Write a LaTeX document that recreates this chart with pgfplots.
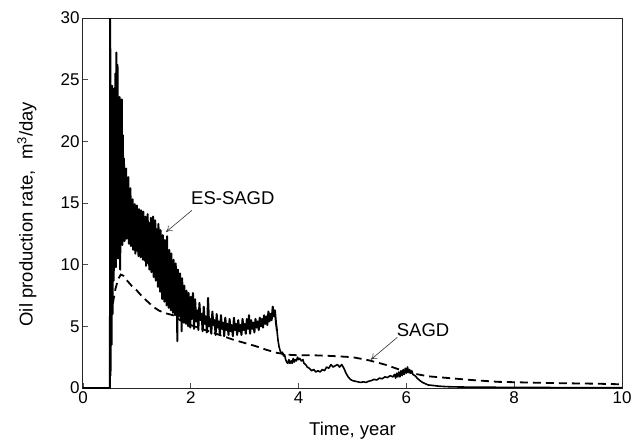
\documentclass[border=0pt]{standalone}
\usepackage{fontspec}
\setmainfont{Liberation Sans}
\usepackage{pgfplots}
\pgfplotsset{compat=1.18}
\usetikzlibrary{arrows.meta}
\begin{document}
\begin{tikzpicture}
\useasboundingbox (-83pt,-54pt) rectangle (557pt,388pt);
\begin{axis}[
  at={(0,0)}, anchor=south west,
  scale only axis, width=539pt, height=370pt,
  xmin=0, xmax=10, ymin=0, ymax=30,
  xtick={0,2,4,6,8,10}, ytick={0,5,10,15,20,25,30},
  xtick pos=bottom, ytick pos=left,
  tick align=inside, major tick length=5pt,
  axis line style={black!85, line width=1pt},
  tick style={black!70, line width=0.8pt},
  /pgf/number format/assume math mode=true,
  tick label style={font=\fontsize{17}{20}\selectfont},
  label style={font=\fontsize{18.5}{22}\selectfont},
  xlabel={Time, year},
  ylabel={Oil production rate,\ \ m\textsuperscript{3}/day},
  xlabel style={at={(axis description cs:0.5,-0.115)}, anchor=center},
  ylabel style={at={(axis description cs:-0.104,0.47)}, anchor=center},
  clip=true,
]
% ES-SAGD (noisy part)
\addplot[black, line width=2pt, line join=round] table {
0 0
0.50 0
0.505 31
0.51 1
0.52 18
0.53 3.5
0.54 24.5
0.55 6
0.56 21
0.57 8.7
0.58 24.3
0.59 12
0.60 25.5
0.61 9.8
0.62 27.2
0.63 13
0.64 26.2
0.65 10.5
0.66 22.5
0.67 12.5
0.68 23.6
0.69 9.6
0.70 21.8
0.71 13.2
0.72 23.4
0.73 11.6
0.74 20.5
0.75 12.8
0.76 18.6
0.77 11.9
0.78 16.9
0.79 13.6
0.80 17.8
0.81 12.1
0.82 15.9
0.83 12.9
0.84 17.1
0.85 11.7
0.86 15.4
0.87 13.4
0.88 16.2
0.89 11.5
0.90 14.6
0.91 12.6
0.92 15.3
0.93 11.2
0.94 13.9
0.95 12.9
0.96 14.9
0.97 10.9
0.98 13.6
0.99 12.3
1.00 14.8
1.01 11.1
1.02 13.3
1.03 10.7
1.04 14.5
1.05 12.4
1.06 13.1
1.07 10.6
1.08 14.4
1.09 11.8
1.10 12.9
1.11 10.4
1.12 14.3
1.13 11.9
1.14 13.2
1.15 10.3
1.16 13.9
1.17 9.9
1.18 12.6
1.19 11.4
1.20 14.1
1.21 10.1
1.22 13.4
1.23 9.6
1.24 12.3
1.25 11.2
1.26 13.8
1.27 9.4
1.28 13.0
1.29 10.7
1.30 13.9
1.31 9.0
1.32 12.2
1.33 10.5
1.34 13.6
1.35 8.7
1.36 12.9
1.37 9.9
1.38 11.6
1.39 8.2
1.40 13.3
1.41 9.6
1.42 12.1
1.43 7.8
1.44 12.8
1.45 9.2
1.46 11.3
1.47 7.2
1.48 12.4
1.49 8.8
1.50 10.9
1.51 7.0
1.52 12.0
1.53 8.4
1.54 11.5
1.55 6.7
1.56 12.3
1.57 8.6
1.58 10.4
1.59 6.5
1.60 11.2
1.61 7.9
1.62 10.1
1.63 6.3
1.64 10.9
1.65 8.1
1.66 9.5
1.67 6.1
1.68 10.4
1.69 7.3
1.70 9.2
1.71 5.9
1.72 10.1
1.73 7.6
1.74 8.7
1.75 3.8
1.76 9.6
1.77 5.8
1.78 8.4
1.79 6.9
1.80 9.3
1.81 5.5
1.82 8.1
1.83 4.6
1.84 8.9
1.85 6.4
1.86 7.6
1.87 5.3
1.88 8.3
1.89 6.6
1.90 7.3
1.91 5.2
1.92 7.9
1.93 6.1
1.94 6.9
1.95 5.0
1.96 7.7
1.97 5.9
1.98 6.6
1.99 4.9
2.00 7.4
2.02 5.6
2.04 7.7
2.06 4.8
2.08 7.2
2.10 5.4
2.12 6.3
2.14 4.7
2.16 6.9
2.18 5.5
2.20 6.0
2.22 4.6
2.24 6.6
2.26 5.2
2.28 5.8
2.30 4.5
2.32 7.3
2.34 5.0
2.36 5.6
2.38 4.4
2.40 6.2
2.42 5.1
2.44 5.5
2.46 4.3
2.48 6.0
2.50 4.9
2.52 5.4
2.54 4.3
2.56 5.9
2.58 4.8
2.60 5.3
2.62 4.2
2.64 5.7
2.66 4.7
2.68 5.2
2.70 4.3
2.72 5.6
2.74 4.6
2.76 5.1
2.78 4.2
2.80 5.7
2.82 4.7
2.84 5.2
2.86 4.3
2.88 5.5
2.90 4.6
2.92 5.1
2.94 4.3
2.96 5.6
2.98 4.7
3.00 5.2
3.02 4.4
3.04 5.6
3.06 4.8
3.08 5.9
3.10 4.4
3.12 5.5
3.14 4.8
3.16 5.3
3.18 4.5
3.20 5.6
3.22 4.9
3.24 5.4
3.26 4.7
3.28 5.7
3.30 5.0
3.32 5.6
3.34 4.9
3.36 5.9
3.38 5.2
3.40 5.8
3.42 5.1
3.44 6.2
3.46 5.4
3.48 6.0
3.50 5.5
3.52 6.6
3.54 5.8
3.56 6.3
3.58 5.3
3.60 4.6
};
% ES-SAGD (later part)
\addplot[black, line width=1.6pt, line join=round] table {
3.60 4.6
3.62 3.8
3.64 3.3
3.66 3.0
3.68 2.8
3.70 2.9
3.72 2.6
3.74 2.7
3.76 2.3
3.78 2.1
3.80 2.0
3.82 2.3
3.84 2.0
3.86 2.2
3.88 2.0
3.90 2.4
3.92 2.1
3.94 2.3
3.96 2.2
3.98 2.5
4.00 2.3
4.02 2.4
4.05 2.2
4.08 2.3
4.10 2.0
4.13 1.9
4.16 1.7
4.20 1.6
4.24 1.4
4.28 1.5
4.32 1.3
4.36 1.4
4.40 1.3
4.44 1.5
4.48 1.4
4.52 1.7
4.56 1.6
4.60 1.9
4.64 1.7
4.68 1.8
4.72 1.9
4.76 1.7
4.80 1.9
4.84 1.6
4.88 1.2
4.92 0.9
4.96 0.7
5.00 0.6
5.05 0.55
5.10 0.5
5.15 0.45
5.20 0.5
5.25 0.45
5.30 0.55
5.35 0.6
5.40 0.7
5.45 0.65
5.50 0.8
5.55 0.75
5.60 0.9
5.65 0.85
5.70 1.0
5.75 0.9
5.78 1.1
5.80 0.8
5.82 1.2
5.84 0.9
5.86 1.3
5.88 0.9
5.90 1.4
5.92 1.0
5.94 1.5
5.96 1.1
5.98 1.6
6.00 1.2
6.02 1.7
6.04 1.3
6.06 1.5
6.08 1.2
6.10 1.4
6.12 1.1
6.16 1.0
6.20 0.8
6.25 0.6
6.30 0.45
6.35 0.35
6.40 0.25
6.50 0.2
6.60 0.15
6.70 0.12
6.80 0.1
7.00 0.08
7.50 0.06
8.00 0.05
8.50 0.04
9.00 0.03
10.0 0.03
};
% SAGD
\addplot[black, line width=1.8pt, dash pattern=on 8pt off 5pt] table {
0.52 5.8
0.56 7.0
0.60 8.0
0.65 8.8
0.70 9.2
0.75 9.1
0.80 8.8
0.90 8.3
1.00 7.9
1.10 7.4
1.20 7.0
1.30 6.6
1.40 6.3
1.50 6.1
1.67 5.9
1.80 5.5
2.00 5.1
2.20 4.8
2.40 4.5
2.60 4.2
2.80 3.9
3.00 3.65
3.20 3.4
3.40 3.1
3.60 2.85
3.80 2.7
4.00 2.65
4.30 2.65
4.60 2.6
5.00 2.5
5.30 2.25
5.60 1.9
5.90 1.45
6.10 1.2
6.40 0.95
6.80 0.8
7.20 0.65
7.70 0.5
8.50 0.42
9.00 0.38
9.50 0.35
10.0 0.3
};
\node[font=\fontsize{18.5}{22}\selectfont] at (axis cs:2.78,15.4) {ES-SAGD};
\draw[black!80, line width=0.6pt, -{To[length=6pt,width=7pt]}] (axis cs:2.02,14.4) -- (axis cs:1.54,12.65);
\node[font=\fontsize{18.5}{22}\selectfont] at (axis cs:6.31,4.7) {SAGD};
\draw[black!80, line width=0.6pt, -{To[length=6pt,width=7pt]}] (axis cs:5.83,4.1) -- (axis cs:5.34,2.3);
\end{axis}
\end{tikzpicture}
\end{document}
